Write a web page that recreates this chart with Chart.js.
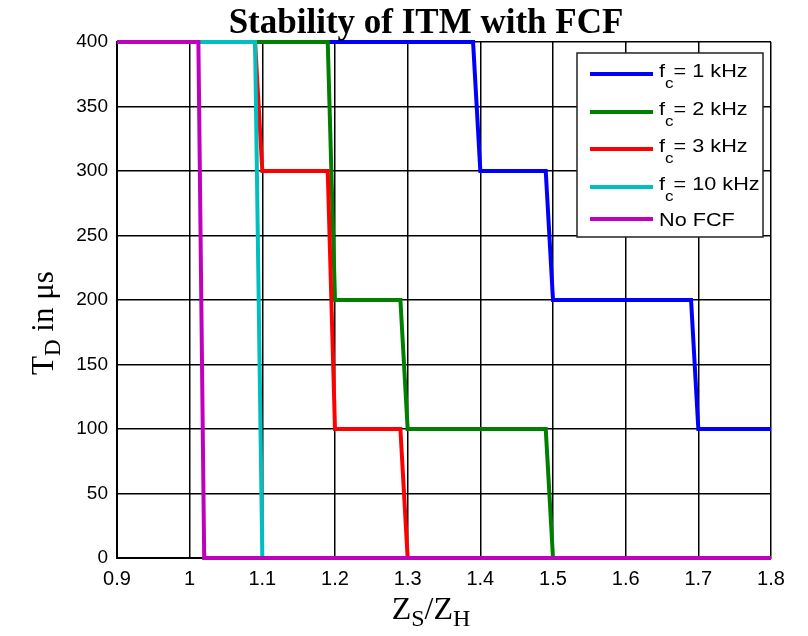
<!DOCTYPE html>
<html>
<head>
<meta charset="utf-8">
<script src="https://cdn.jsdelivr.net/npm/chart.js@4.4.1/dist/chart.umd.min.js"></script>
<style>
  body { margin: 0; background: #fff; }
  canvas { display: block; }
</style>
</head>
<body>
<canvas id="stabilityChart" width="808" height="636"></canvas>
<script>
// step curves: x = Zs/Zh, y = TD in us
const fc1X = [0.9, 1.39, 1.40, 1.49, 1.50, 1.69, 1.70, 1.80];
const fc1Y = [400, 400, 300, 300, 200, 200, 100, 100];
const fc2X = [0.9, 1.19, 1.20, 1.29, 1.30, 1.49, 1.50, 1.80];
const fc2Y = [400, 400, 200, 200, 100, 100, 0, 0];
const fc3X = [0.9, 1.09, 1.10, 1.19, 1.20, 1.29, 1.30, 1.80];
const fc3Y = [400, 400, 300, 300, 100, 100, 0, 0];
const fc10X = [0.9, 1.09, 1.10, 1.80];
const fc10Y = [400, 400, 0, 0];
const noFcfX = [0.9, 1.012, 1.02, 1.80];
const noFcfY = [400, 400, 0, 0];

const seriesNames = ['1 kHz', '2 kHz', '3 kHz', '10 kHz', 'No FCF'];
const seriesColors = ['#0000ff', '#008000', '#ff0000', '#00bfbf', '#bf00bf'];

const xMin = 0.9, xMax = 1.8, xStep = 0.1;
const yMin = 0, yMax = 400, yStep = 50;

function toPoints(xs, ys) {
    return xs.map((x, i) => ({ x: x, y: ys[i] }));
}

const allX = [fc1X, fc2X, fc3X, fc10X, noFcfX];
const allY = [fc1Y, fc2Y, fc3Y, fc10Y, noFcfY];

const datasets = allX.map((xs, i) => ({
    label: seriesNames[i],
    data: toPoints(xs, allY[i]),
    borderColor: seriesColors[i],
    borderWidth: 4,
    pointRadius: 0,
    tension: 0,
    fill: false,
    clip: false,
    order: 5 - i   // later series on top, like MATLAB
}));

const serif = '"Liberation Serif", "Times New Roman", serif';
const sans = '"Liberation Sans", Arial, sans-serif';

// draws text pieces with subscripts, left to right from x
function drawRich(ctx, parts, x, y) {
    let cx = x;
    parts.forEach(p => {
        ctx.font = p.font;
        ctx.fillText(p.t, cx, y + (p.dy || 0));
        cx += ctx.measureText(p.t).width;
    });
}
function richWidth(ctx, parts) {
    let w = 0;
    parts.forEach(p => { ctx.font = p.font; w += ctx.measureText(p.t).width; });
    return w;
}

const labelsPlugin = {
    id: 'matlabText',
    afterDraw(chart) {
        const ctx = chart.ctx;
        ctx.save();
        ctx.fillStyle = '#000';
        ctx.textBaseline = 'alphabetic';
        ctx.textAlign = 'left';

        // title
        const title = [{ t: 'Stability of ITM with FCF', font: 'bold 35px ' + serif }];
        drawRich(ctx, title, 426 - richWidth(ctx, title) / 2, 33);

        // x label
        const xl = [
            { t: 'Z', font: '32px ' + serif },
            { t: 'S', font: '24px ' + serif, dy: 7 },
            { t: '/Z', font: '32px ' + serif },
            { t: 'H', font: '24px ' + serif, dy: 7 }
        ];
        drawRich(ctx, xl, 431 - richWidth(ctx, xl) / 2, 619);

        // y label
        const yl = [
            { t: 'T', font: '31px ' + serif },
            { t: 'D', font: '23px ' + serif, dy: 7 },
            { t: ' in \u03bcs', font: '31px ' + serif }
        ];
        ctx.save();
        ctx.translate(53, 323);
        ctx.rotate(-Math.PI / 2);
        drawRich(ctx, yl, -richWidth(ctx, yl) / 2, 0);
        ctx.restore();

        // legend box
        const bx = 577, by = 53, bw = 186, bh = 184;
        ctx.fillStyle = '#fff';
        ctx.fillRect(bx, by, bw, bh);
        ctx.strokeStyle = '#222';
        ctx.lineWidth = 1.5;
        ctx.strokeRect(bx, by, bw, bh);

        const rowY = [74, 112, 149, 187, 219];
        seriesNames.forEach((name, i) => {
            ctx.strokeStyle = seriesColors[i];
            ctx.lineWidth = 4;
            ctx.beginPath();
            ctx.moveTo(590, rowY[i]);
            ctx.lineTo(653, rowY[i]);
            ctx.stroke();
            ctx.fillStyle = '#000';
            // the reference text is a little wide, stretch it sideways
            ctx.save();
            ctx.translate(659, 0);
            ctx.scale(1.14, 1);
            if (name === 'No FCF') {
                drawRich(ctx, [{ t: name, font: '19px ' + sans }], 0, rowY[i] + 7);
            } else {
                drawRich(ctx, [
                    { t: 'f', font: '19px ' + sans },
                    { t: 'c', font: '15px ' + sans, dy: 11 },
                    { t: '= ' + name, font: '19px ' + sans }
                ], 0, rowY[i] + 3);
            }
            ctx.restore();
        });
        ctx.restore();
    }
};

function fmtTick(v) {
    return String(Number(v.toFixed(1)));
}

new Chart(document.getElementById('stabilityChart'), {
    type: 'line',
    data: { datasets: datasets },
    options: {
        responsive: false,
        animation: false,
        layout: { padding: { top: 42, right: 37, left: 0, bottom: 0 } },
        plugins: {
            legend: { display: false },
            title: { display: false },
            tooltip: { enabled: false }
        },
        scales: {
            x: {
                type: 'linear',
                min: xMin,
                max: xMax,
                afterFit(scale) { scale.height = 78; },
                ticks: {
                    stepSize: xStep,
                    padding: 9,
                    color: '#000',
                    font: { family: sans, size: 20 },
                    callback: fmtTick,
                    maxRotation: 0
                },
                grid: { color: '#000', lineWidth: 1.5, drawTicks: false },
                border: { display: true, color: '#000', width: 2 }
            },
            y: {
                min: yMin,
                max: yMax,
                afterFit(scale) { scale.width = 117; },
                ticks: {
                    stepSize: yStep,
                    padding: 9,
                    color: '#000',
                    font: { family: sans, size: 19 }
                },
                grid: { color: '#000', lineWidth: 1.5, drawTicks: false },
                border: { display: true, color: '#000', width: 2 }
            }
        }
    },
    plugins: [labelsPlugin]
});
</script>
</body>
</html>
